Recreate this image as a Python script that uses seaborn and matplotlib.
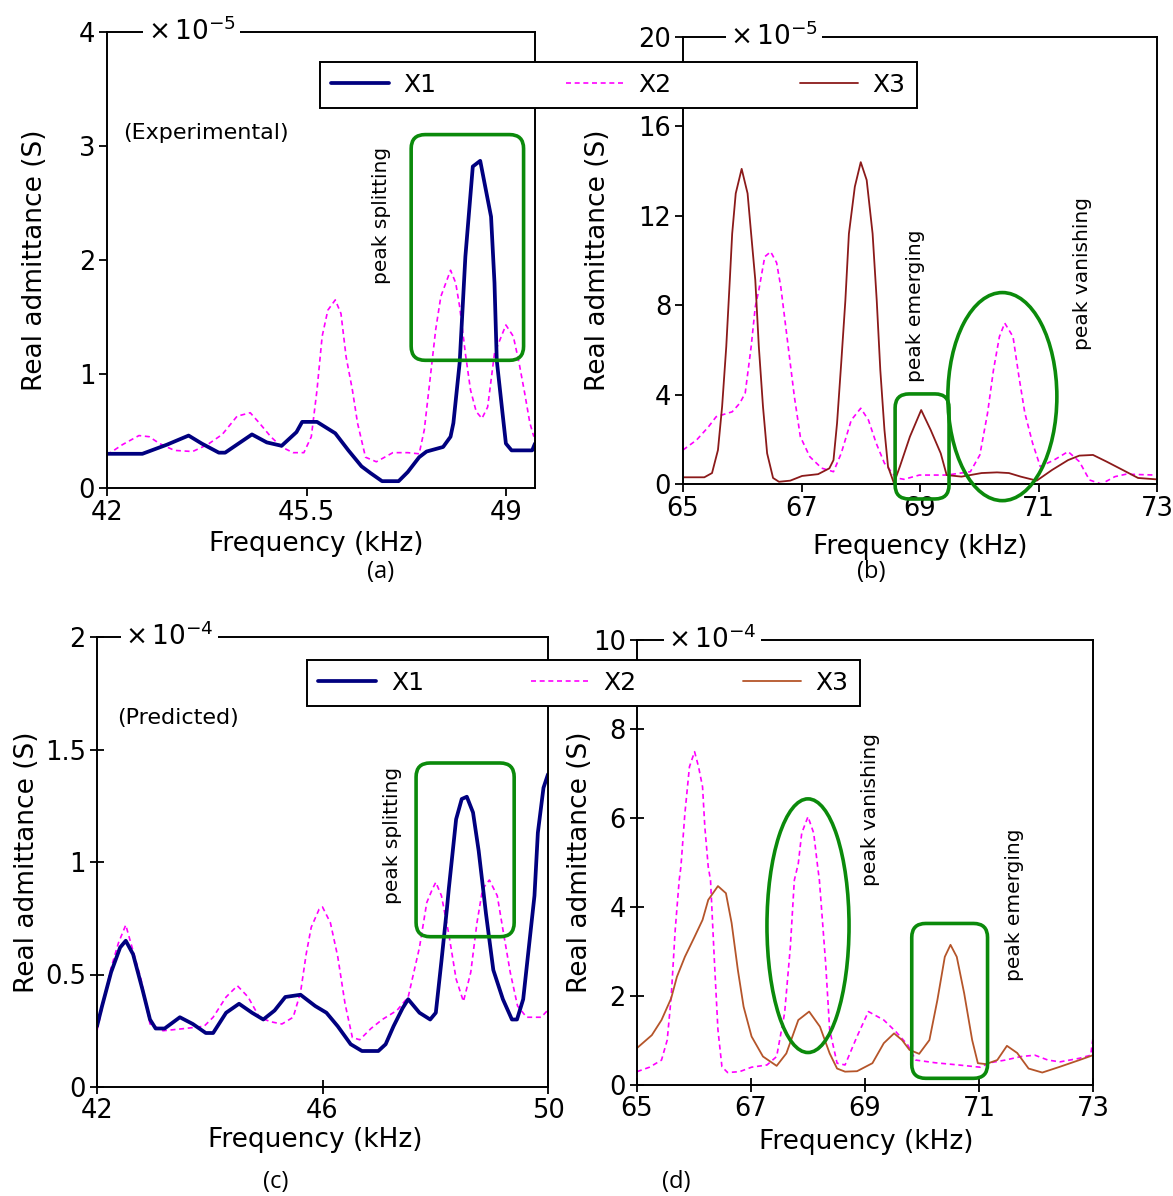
import numpy as np
import pandas as pd
import matplotlib
matplotlib.use("Agg")
import matplotlib.pyplot as plt
import seaborn as sns
from matplotlib.patches import FancyBboxPatch, Ellipse
from matplotlib.lines import Line2D
from matplotlib.ticker import FuncFormatter

# ---------------- data ----------------
# (a) experimental, 42-49.5 kHz, x 1e-5 S
a_x1_f = [42.0, 42.62, 43.05, 43.43, 43.66, 43.96, 44.07, 44.54, 44.80, 45.06, 45.32, 45.42, 45.68, 46.0,
          46.23, 46.46, 46.62, 46.82, 47.11, 47.27, 47.47, 47.60, 47.89, 48.02, 48.07, 48.18, 48.28, 48.41,
          48.54, 48.73, 48.79, 48.83, 48.93, 48.99, 49.09, 49.45, 49.5]
a_x1_y = [0.30, 0.30, 0.38, 0.46, 0.39, 0.31, 0.31, 0.47, 0.40, 0.37, 0.49, 0.58, 0.58, 0.48,
          0.33, 0.19, 0.13, 0.06, 0.06, 0.14, 0.27, 0.32, 0.36, 0.45, 0.57, 1.10, 2.03, 2.82,
          2.87, 2.38, 1.80, 1.12, 0.66, 0.39, 0.33, 0.33, 0.39]
a_x2_f = [42.0, 42.27, 42.56, 42.74, 42.92, 43.18, 43.5, 43.76, 44.02, 44.28, 44.51, 44.67, 44.87, 45.06,
          45.26, 45.45, 45.58, 45.68, 45.77, 45.87, 46.0, 46.10, 46.19, 46.30, 46.39, 46.53, 46.72, 47.01,
          47.27, 47.47, 47.56, 47.66, 47.76, 47.85, 48.02, 48.11, 48.18, 48.28, 48.37, 48.47, 48.57, 48.67,
          48.79, 48.99, 49.12, 49.22, 49.32, 49.41, 49.48]
a_x2_y = [0.29, 0.38, 0.46, 0.45, 0.39, 0.33, 0.32, 0.38, 0.47, 0.63, 0.66, 0.57, 0.45, 0.36,
          0.31, 0.31, 0.45, 0.86, 1.33, 1.56, 1.65, 1.53, 1.15, 0.86, 0.57, 0.27, 0.23, 0.31,
          0.31, 0.30, 0.51, 0.95, 1.39, 1.68, 1.91, 1.80, 1.59, 1.18, 0.86, 0.67, 0.61, 0.71,
          1.18, 1.43, 1.33, 1.10, 0.83, 0.57, 0.45]

# (b) experimental, 65-73 kHz, x 1e-5 S
b_x3_f = [65.0, 65.36, 65.49, 65.59, 65.66, 65.73, 65.79, 65.83, 65.89, 65.99, 66.09, 66.15, 66.22, 66.28,
          66.35, 66.42, 66.52, 66.62, 66.81, 67.01, 67.28, 67.47, 67.54, 67.60, 67.67, 67.74, 67.80, 67.90,
          68.0, 68.1, 68.2, 68.27, 68.33, 68.40, 68.46, 68.56, 68.66, 68.83, 69.02, 69.18, 69.35, 69.45,
          69.7, 70.04, 70.3, 70.5, 70.7, 70.97, 71.23, 71.5, 71.69, 71.92, 72.15, 72.42, 72.68, 72.98]
b_x3_y = [0.3, 0.3, 0.49, 1.52, 3.46, 6.14, 9.13, 11.2, 13.0, 14.1, 13.0, 11.2, 9.13, 6.14,
          3.46, 1.37, 0.27, 0.10, 0.15, 0.36, 0.44, 0.70, 1.07, 2.72, 5.4, 8.2, 11.2, 13.3,
          14.4, 13.6, 11.2, 8.2, 5.1, 2.42, 0.78, 0.04, 0.78, 2.12, 3.31, 2.42, 1.37, 0.40,
          0.33, 0.49, 0.52, 0.49, 0.33, 0.15, 0.63, 1.07, 1.27, 1.30, 1.0, 0.63, 0.27, 0.21]
b_x2_f = [65.0, 65.23, 65.43, 65.56, 65.83, 65.96, 66.05, 66.15, 66.22, 66.28, 66.38, 66.48, 66.58, 66.65,
          66.72, 66.81, 66.88, 66.98, 67.14, 67.34, 67.54, 67.67, 67.84, 68.0, 68.13, 68.26, 68.4, 68.6,
          68.73, 68.99, 69.45, 69.85, 70.01, 70.14, 70.24, 70.34, 70.43, 70.57, 70.67, 70.77, 70.9, 71.03,
          71.26, 71.5, 71.69, 71.86, 72.06, 72.29, 72.48, 72.98]
b_x2_y = [1.52, 1.97, 2.56, 3.01, 3.23, 3.62, 4.07, 6.14, 7.93, 8.68, 10.17, 10.39, 9.9, 8.83,
          7.34, 5.4, 3.9, 2.12, 1.22, 0.71, 0.55, 1.37, 2.86, 3.39, 2.86, 1.83, 0.93, 0.27,
          0.21, 0.4, 0.4, 0.55, 1.3, 3.17, 5.1, 6.59, 7.2, 6.59, 4.8, 3.17, 1.83, 0.78,
          1.07, 1.45, 1.0, 0.18, 0.0, 0.33, 0.44, 0.4]

# (c) predicted, 42-50 kHz, x 1e-4 S
c_x1_f = [42.0, 42.09, 42.25, 42.41, 42.51, 42.64, 42.81, 42.94, 43.04, 43.2, 43.47, 43.70, 43.93, 44.06,
          44.29, 44.52, 44.75, 44.95, 45.15, 45.34, 45.61, 45.87, 46.07, 46.27, 46.5, 46.7, 46.99, 47.12,
          47.26, 47.42, 47.52, 47.72, 47.91, 48.01, 48.11, 48.21, 48.24, 48.37, 48.47, 48.56, 48.67, 48.77,
          48.84, 48.9, 49.03, 49.2, 49.36, 49.45, 49.56, 49.66, 49.76, 49.82, 49.92, 50.0]
c_x1_y = [0.27, 0.36, 0.51, 0.62, 0.65, 0.59, 0.43, 0.30, 0.26, 0.26, 0.31, 0.28, 0.24, 0.24,
          0.33, 0.37, 0.33, 0.30, 0.34, 0.40, 0.41, 0.36, 0.33, 0.27, 0.19, 0.16, 0.16, 0.19,
          0.27, 0.35, 0.39, 0.33, 0.30, 0.33, 0.56, 0.80, 0.88, 1.19, 1.28, 1.29, 1.22, 1.05,
          0.90, 0.77, 0.52, 0.39, 0.30, 0.30, 0.39, 0.62, 0.85, 1.13, 1.33, 1.39]
c_x2_f = [42.0, 42.25, 42.38, 42.51, 42.6, 42.78, 42.94, 43.17, 43.56, 43.9, 44.06, 44.29, 44.49, 44.68,
          44.88, 45.08, 45.28, 45.48, 45.61, 45.71, 45.8, 45.94, 46.0, 46.14, 46.27, 46.4, 46.53, 46.66,
          46.86, 47.06, 47.32, 47.52, 47.72, 47.85, 47.95, 48.01, 48.11, 48.24, 48.37, 48.5, 48.63, 48.74,
          48.84, 48.96, 49.1, 49.2, 49.33, 49.46, 49.62, 49.88, 49.99]
c_x2_y = [0.25, 0.53, 0.64, 0.72, 0.64, 0.48, 0.28, 0.25, 0.26, 0.27, 0.31, 0.40, 0.45, 0.40,
          0.31, 0.29, 0.28, 0.31, 0.42, 0.59, 0.71, 0.79, 0.80, 0.73, 0.58, 0.37, 0.22, 0.21,
          0.26, 0.30, 0.34, 0.40, 0.62, 0.82, 0.88, 0.91, 0.85, 0.68, 0.48, 0.38, 0.51, 0.73,
          0.88, 0.92, 0.85, 0.70, 0.51, 0.36, 0.31, 0.31, 0.34]

# (d) predicted, 65-73 kHz, x 1e-4 S
d_x2_f = [65.0, 65.22, 65.43, 65.53, 65.6, 65.67, 65.74, 65.77, 65.84, 65.92, 66.01, 66.08, 66.15, 66.19,
          66.25, 66.29, 66.36, 66.42, 66.49, 66.59, 66.8, 67.01, 67.28, 67.45, 67.59, 67.69, 67.76, 67.83,
          67.89, 68.0, 68.1, 68.17, 68.2, 68.31, 68.38, 68.51, 68.65, 68.86, 69.06, 69.33, 69.54, 69.75,
          69.89, 70.23, 70.64, 71.02, 71.19, 71.46, 71.74, 71.98, 72.21, 72.42, 72.76, 72.96, 73.0]
d_x2_y = [0.30, 0.40, 0.56, 1.01, 1.98, 3.48, 4.6, 4.9, 6.1, 7.15, 7.49, 7.15, 6.7, 5.8,
          4.9, 4.6, 2.73, 1.24, 0.41, 0.28, 0.30, 0.40, 0.45, 0.64, 1.62, 3.1, 4.6, 4.98,
          5.66, 6.03, 5.66, 4.9, 4.6, 2.73, 1.24, 0.49, 0.45, 1.09, 1.65, 1.46, 1.2, 0.9,
          0.56, 0.5, 0.45, 0.40, 0.5, 0.56, 0.64, 0.67, 0.56, 0.52, 0.6, 0.67, 1.06]
d_x3_f = [65.0, 65.26, 65.43, 65.6, 65.7, 65.84, 66.01, 66.15, 66.25, 66.42, 66.56, 66.66, 66.77, 66.87,
          67.01, 67.21, 67.45, 67.62, 67.83, 68.02, 68.21, 68.38, 68.51, 68.65, 68.86, 69.13, 69.33, 69.51,
          69.65, 69.78, 69.95, 70.13, 70.27, 70.4, 70.5, 70.61, 70.74, 70.88, 70.98, 71.12, 71.32, 71.49,
          71.67, 71.87, 72.11, 72.42, 72.76, 73.0]
d_x3_y = [0.83, 1.12, 1.46, 1.95, 2.43, 2.88, 3.33, 3.71, 4.16, 4.47, 4.31, 3.64, 2.58, 1.76,
          1.09, 0.64, 0.43, 0.71, 1.46, 1.65, 1.31, 0.71, 0.37, 0.30, 0.31, 0.49, 0.94, 1.16,
          1.01, 0.79, 0.70, 1.01, 1.91, 2.88, 3.15, 2.88, 2.06, 1.01, 0.49, 0.47, 0.56, 0.88,
          0.72, 0.37, 0.28, 0.41, 0.56, 0.67]

# tick values
a_xticks = [42, 45.5, 49]
a_yticks = [0, 1, 2, 3, 4]
b_xticks = [65, 67, 69, 71, 73]
b_yticks = [0, 4, 8, 12, 16, 20]
c_xticks = [42, 46, 50]
c_yticks = [0, 0.5, 1, 1.5, 2]
d_xticks = [65, 67, 69, 71, 73]
d_yticks = [0, 2, 4, 6, 8, 10]

series_names = ["X1", "X2", "X3"]

# ---------------- style ----------------
NAVY = "#00007f"
MAGENTA = "#ff00ff"
DARKRED = "#8b1a1a"
SIENNA = "#b5552a"
GREEN = "#0b8a0b"
DASH = (0, (3, 2.2))

sns.set_theme(style="white", rc={"axes.edgecolor": "black", "axes.linewidth": 1.4,
                                 "xtick.color": "black", "ytick.color": "black",
                                 "text.color": "black", "axes.labelcolor": "black"})
plt.rcParams['font.family'] = ['DejaVu Sans']
plt.rcParams['mathtext.fontset'] = 'dejavusans'

W, H = 1173, 1196
fig = plt.figure(figsize=(W / 100, H / 100), dpi=100)


def add_ax(l, t, r, b):
    return fig.add_axes([l / W, 1 - b / H, (r - l) / W, (b - t) / H])


def curve(ax, f, y, color, lw, dashed=False):
    df = pd.DataFrame({"f": f, "y": y})
    sns.lineplot(data=df, x="f", y="y", ax=ax, color=color, linewidth=lw,
                 linestyle=DASH if dashed else "-", estimator=None, sort=False, legend=False)


fmt = FuncFormatter(lambda v, p: f"{v:g}")


def setup(ax, xlim, ylim, xt, yt, exp, tickdir, ylab_x, xlab_xy):
    ax.set_xlim(*xlim)
    ax.set_ylim(*ylim)
    ax.set_xticks(xt)
    ax.set_yticks(yt)
    ax.xaxis.set_major_formatter(fmt)
    ax.yaxis.set_major_formatter(fmt)
    length = 5.5 if tickdir == "out" else 10
    ax.tick_params(direction=tickdir, length=length, width=1.3, labelsize=18.5, pad=3,
                   bottom=True, left=True, top=False, right=False)
    ax.set_xlabel("Frequency (kHz)", fontsize=19, va="center")
    ax.set_ylabel("Real admittance (S)", fontsize=19, va="center")
    ax.xaxis.set_label_coords(*xlab_xy)
    ax.yaxis.set_label_coords(ylab_x, 0.5)
    for s in ax.spines.values():
        s.set_visible(True)
        s.set_linewidth(1.4)
    ax.text(exp[0], 1.0, r"$\times\,10^{%d}$" % exp[1], transform=ax.transAxes,
            fontsize=19, ha="left", va="center",
            bbox=dict(facecolor="white", edgecolor="none", pad=3), zorder=5)


def rbox(ax, x0, x1, y0, y1, r_px=14):
    bb = ax.get_window_extent()
    xl, yl = ax.get_xlim(), ax.get_ylim()
    pxx = bb.width / (xl[1] - xl[0])
    pxy = bb.height / (yl[1] - yl[0])
    p = FancyBboxPatch((x0, y0), x1 - x0, y1 - y0,
                       boxstyle=f"round,pad=0,rounding_size={r_px / pxx}",
                       mutation_aspect=pxx / pxy, fill=False, edgecolor=GREEN,
                       linewidth=2.6, clip_on=False, zorder=4)
    ax.add_patch(p)


def ell(ax, cx, cy, w, h):
    ax.add_patch(Ellipse((cx, cy), w, h, fill=False, edgecolor=GREEN, linewidth=2.6,
                         clip_on=False, zorder=4))


def vtext(ax, x, y, s):
    ax.text(x, y, s, rotation=90, ha="center", va="center", fontsize=14.5)


# ---------------- panel (a) ----------------
axA = add_ax(107, 32, 535, 488)
curve(axA, a_x2_f, a_x2_y, MAGENTA, 1.2, dashed=True)
curve(axA, a_x1_f, a_x1_y, NAVY, 2.7)
setup(axA, (42, 49.5), (0, 4), a_xticks, a_yticks, (0.095, -5), "out", -0.168, (0.488, -0.122))
axA.text(42.28, 3.11, "(Experimental)", fontsize=16, ha="left", va="center")
vtext(axA, 46.81, 2.39, "peak splitting")

# ---------------- panel (b) ----------------
axB = add_ax(683, 37, 1157, 484)
curve(axB, b_x2_f, b_x2_y, MAGENTA, 1.2, dashed=True)
curve(axB, b_x3_f, b_x3_y, DARKRED, 1.3)
setup(axB, (65, 73), (0, 20), b_xticks, b_yticks, (0.099, -5), "out", -0.179, (0.5, -0.14))
vtext(axB, 68.93, 7.96, "peak emerging")
vtext(axB, 71.75, 9.4, "peak vanishing")

# ---------------- panel (c) ----------------
axC = add_ax(97, 637, 548, 1087)
curve(axC, c_x2_f, c_x2_y, MAGENTA, 1.2, dashed=True)
curve(axC, c_x1_f, c_x1_y, NAVY, 2.7)
setup(axC, (42, 50), (0, 2), c_xticks, c_yticks, (0.062, -4), "inout", -0.155, (0.483, -0.118))
axC.text(42.36, 1.64, "(Predicted)", fontsize=16, ha="left", va="center")
vtext(axC, 47.24, 1.12, "peak splitting")

# ---------------- panel (d) ----------------
axD = add_ax(637, 640, 1093, 1085)
curve(axD, d_x2_f, d_x2_y, MAGENTA, 1.2, dashed=True)
curve(axD, d_x3_f, d_x3_y, SIENNA, 1.3)
setup(axD, (65, 73), (0, 10), d_xticks, d_yticks, (0.068, -4), "inout", -0.125, (0.502, -0.128))
vtext(axD, 69.1, 6.18, "peak vanishing")
vtext(axD, 71.63, 4.04, "peak emerging")

# green highlight shapes (need final axes extents)
fig.canvas.draw()
rbox(axA, 47.33, 49.30, 1.12, 3.10)
rbox(axB, 68.58, 69.49, -0.67, 4.03)
ell(axB, 70.39, 3.91, 1.84, 9.31)
rbox(axC, 47.66, 49.40, 0.668, 1.44)
ell(axD, 68.0, 3.58, 1.44, 5.7)
rbox(axD, 69.82, 71.15, 0.15, 3.63)


# ---------------- legends ----------------
def legend(handles, l, t, r):
    lg = fig.legend(handles, series_names, loc="upper left",
                    bbox_to_anchor=(l / W, 1 - t / H, (r - l) / W, 0.0001),
                    mode="expand", ncol=3, frameon=True, fancybox=False, fontsize=18,
                    handlelength=2.3, handletextpad=0.6, borderpad=0.45, borderaxespad=0)
    fr = lg.get_frame()
    fr.set_edgecolor("black")
    fr.set_linewidth(1.4)
    fr.set_facecolor("white")
    fr.set_alpha(1)


legend([Line2D([], [], color=NAVY, lw=2.7),
        Line2D([], [], color=MAGENTA, lw=1.2, ls=DASH),
        Line2D([], [], color=DARKRED, lw=1.3)], 320, 62, 917)
legend([Line2D([], [], color=NAVY, lw=2.7),
        Line2D([], [], color=MAGENTA, lw=1.2, ls=DASH),
        Line2D([], [], color=SIENNA, lw=1.3)], 307, 660, 860)

# ---------------- panel labels ----------------
for s, x, y in [("(a)", 381, 572), ("(b)", 871, 572), ("(c)", 276, 1182), ("(d)", 676, 1182)]:
    fig.text(x / W, 1 - y / H, s, fontsize=17, ha="center", va="center",
             family=["Open Sans", "DejaVu Sans"])

fig.savefig("out.png", dpi=100)
